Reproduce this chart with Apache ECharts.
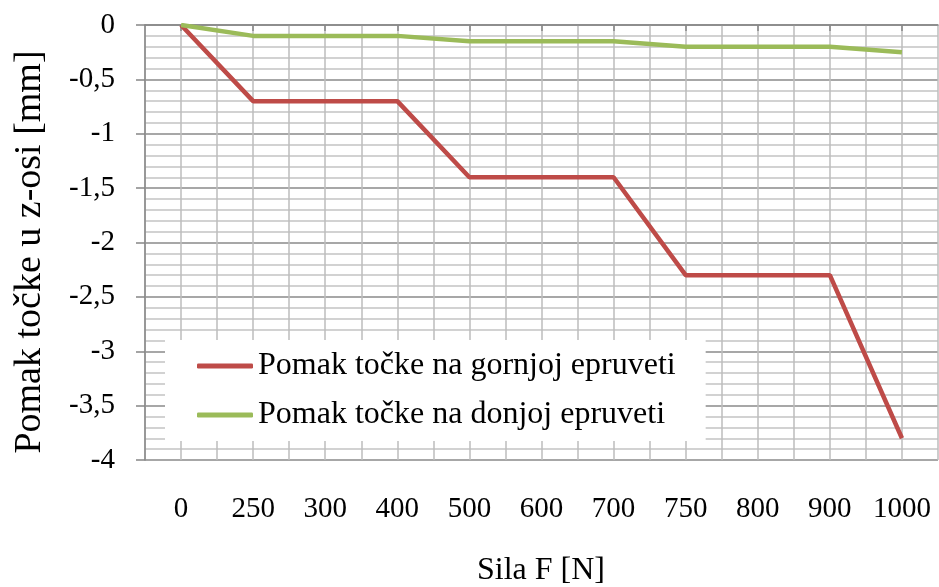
<!DOCTYPE html>
<html>
<head>
<meta charset="utf-8">
<script src="https://cdn.jsdelivr.net/npm/echarts@6/dist/echarts.min.js"></script>
<style>
  html, body { margin: 0; padding: 0; background: #fff; }
  #chart { width: 939px; height: 587px; }
</style>
</head>
<body>
<div id="chart"></div>
<script>
// Force levels on the horizontal axis (N)
const forces = ['0', '250', '300', '400', '500', '600', '700', '750', '800', '900', '1000'];
// Displacement of the point on the upper specimen (mm)
const upperSpecimen = [0, -0.7, -0.7, -0.7, -1.4, -1.4, -1.4, -2.3, -2.3, -2.3, -3.8];
// Displacement of the point on the lower specimen (mm)
const lowerSpecimen = [0, -0.1, -0.1, -0.1, -0.15, -0.15, -0.15, -0.2, -0.2, -0.2, -0.25];

const seriesNames = ['Pomak točke na gornjoj epruveti', 'Pomak točke na donjoj epruveti'];
const FONT = '"Liberation Serif", "Times New Roman", serif';

const chart = echarts.init(document.getElementById('chart'), null, { renderer: 'canvas' });

chart.setOption({
  animation: false,
  backgroundColor: '#ffffff',
  grid: { left: 145, top: 25, right: 1, bottom: 127, containLabel: false },
  legend: {
    orient: 'vertical',
    left: 165,
    top: 340,
    backgroundColor: '#ffffff',
    padding: [10, 30, 10, 32],
    itemGap: 17,
    itemWidth: 56,
    itemHeight: 5,
    icon: 'roundRect',
    textStyle: { fontFamily: FONT, fontSize: 32, color: '#000' },
    data: seriesNames
  },
  xAxis: [
    {
      type: 'category',
      data: forces,
      position: 'bottom',
      boundaryGap: true,
      axisLine: { show: false },
      axisTick: { show: false },
      splitLine: { show: false },
      axisLabel: { fontFamily: FONT, fontSize: 29, color: '#000', margin: 35, interval: 0 }
    },
    {
      type: 'category',
      data: forces,
      position: 'top',
      boundaryGap: true,
      axisLine: { show: true, lineStyle: { color: '#868686', width: 1.5 } },
      axisTick: { show: true, inside: true, length: 6, alignWithLabel: true, lineStyle: { color: '#868686', width: 1.5 } },
      axisLabel: { show: false },
      splitLine: { show: false }
    },
    {
      // half-category vertical grid
      type: 'value',
      min: 0,
      max: 22,
      interval: 1,
      position: 'bottom',
      axisLine: { show: false },
      axisTick: { show: false },
      axisLabel: { show: false },
      splitLine: { show: true, lineStyle: { color: '#bdbdbd', width: 1.5 } }
    }
  ],
  yAxis: {
    type: 'value',
    min: -4,
    max: 0,
    interval: 0.5,
    axisLine: { show: true, lineStyle: { color: '#868686', width: 1.5 } },
    axisTick: { show: true, length: 9, lineStyle: { color: '#868686', width: 1.5 } },
    minorTick: { show: false, splitNumber: 5 },
    minorSplitLine: { show: true, lineStyle: { color: '#c3c3c3', width: 1.5 } },
    splitLine: { show: true, lineStyle: { color: '#8a8a8a', width: 1.5 } },
    axisLabel: {
      fontFamily: FONT, fontSize: 29, color: '#000', margin: 30,
      formatter: v => String(v).replace('.', ',')
    }
  },
  series: [
    {
      name: seriesNames[0],
      type: 'line',
      xAxisIndex: 0,
      data: upperSpecimen,
      symbol: 'none',
      lineStyle: { color: '#be4b48', width: 4.5 },
      itemStyle: { color: '#be4b48' },
      z: 3
    },
    {
      name: seriesNames[1],
      type: 'line',
      xAxisIndex: 0,
      data: lowerSpecimen,
      symbol: 'none',
      lineStyle: { color: '#9bbb59', width: 4.5 },
      itemStyle: { color: '#9bbb59' },
      z: 4
    }
  ],
  graphic: [
    {
      type: 'text',
      x: 30,
      y: 252,
      rotation: Math.PI / 2,
      style: {
        text: 'Pomak točke u z-osi [mm]', fontFamily: FONT, fontSize: 38, fill: '#000',
        align: 'center', verticalAlign: 'middle'
      }
    },
    {
      type: 'text',
      x: 541,
      y: 571,
      style: {
        text: 'Sila F [N]', fontFamily: FONT, fontSize: 32, fill: '#000',
        align: 'center', verticalAlign: 'middle'
      }
    }
  ]
});
</script>
</body>
</html>
